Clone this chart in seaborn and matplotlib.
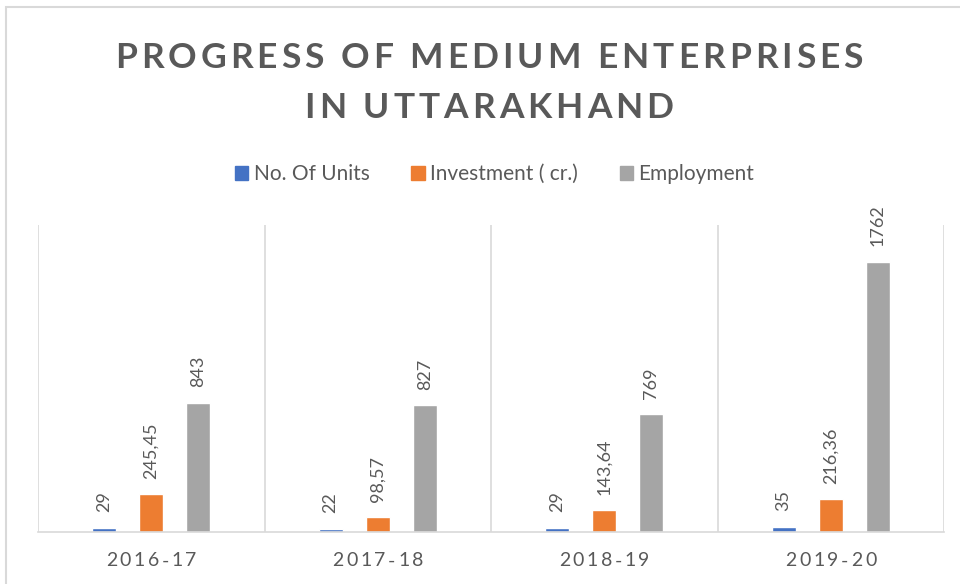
import matplotlib
matplotlib.use("Agg")
import matplotlib.pyplot as plt
import matplotlib.patches as mpatches
from matplotlib.font_manager import FontProperties, findfont, get_font
from matplotlib.transforms import offset_copy
import seaborn as sns
import pandas as pd

years = ["2016-17", "2017-18", "2018-19", "2019-20"]
units = [29, 22, 29, 35]
investment = [245.45, 98.57, 143.64, 216.36]
employment = [843, 827, 769, 1762]
series_names = ["No. Of Units", "Investment ( cr.)", "Employment"]
colors = ["#4472C4", "#ED7D31", "#A5A5A5"]
title_lines = ["PROGRESS OF MEDIUM ENTERPRISES", "IN UTTARAKHAND"]

df = pd.DataFrame({
    "year": years * 3,
    "series": [s for s in series_names for _ in years],
    "value": units + investment + employment,
})

sns.set_theme(style="white")
plt.rcParams["font.family"] = ["Lato", "DejaVu Sans"]
text_color = "#595959"
grid_color = "#D9D9D9"
DPI = 100
W, H = 960, 584

fig = plt.figure(figsize=(W / DPI, H / DPI), dpi=DPI)
ax = fig.add_axes([38 / W, 1 - 532 / H, (944 - 38) / W, (532 - 225) / H])


def advances(text, prop):
    """Horizontal advance of each character, in pixels."""
    font = get_font(findfont(prop))
    font.set_size(prop.get_size_in_points(), DPI)
    return [font.load_char(ord(ch)).linearHoriAdvance / 65536 for ch in text]


def tracked_text(text, x, y, base_transform, size, weight="normal",
                 spacing=None, total_width=None, **kw):
    """Draw text centred at (x, y) with extra space between letters."""
    prop = FontProperties(family="Lato", size=size, weight=weight)
    adv = advances(text, prop)
    natural = sum(adv)
    if total_width is not None:
        spacing = (total_width - natural) / (len(text) - 1)
    width = natural + spacing * (len(text) - 1)
    pen = -width / 2
    for ch, a in zip(text, adv):
        if ch != " ":
            tr = offset_copy(base_transform, fig=fig, x=pen + a / 2, y=0,
                             units="dots")
            fig.text(x, y, ch, transform=tr, ha="center", va="baseline",
                     fontproperties=prop, color=text_color, **kw)
        pen += a + spacing
    return spacing


sns.barplot(data=df, x="year", y="value", hue="series", order=years,
            hue_order=series_names, palette=colors, width=0.624, gap=0.49,
            saturation=1, ax=ax, legend=False)

ax.set_ylim(0, 2000)
ax.set_xlim(-0.5, len(years) - 0.5)
ax.set_yticks([])
ax.set_xlabel("")
ax.set_ylabel("")
for s in ["top", "left", "right"]:
    ax.spines[s].set_visible(False)
ax.spines["bottom"].set_color(grid_color)
ax.spines["bottom"].set_linewidth(1.2)

# vertical separators between categories
for b in [i - 0.5 for i in range(len(years) + 1)]:
    ax.axvline(b, color=grid_color, lw=1.2, zorder=0)

# category labels with letter spacing
ax.set_xticks(range(len(years)))
ax.set_xticklabels([])
ax.tick_params(axis="x", length=0)
xaxis_tr = offset_copy(ax.get_xaxis_transform(), fig=fig, x=0, y=-34.5,
                       units="dots")
for i, yr in enumerate(years):
    tracked_text(yr, i, 0, xaxis_tr, size=14, total_width=91)


def fmt(v):
    if float(v).is_integer():
        return str(int(v))
    return f"{v:.2f}".replace(".", ",")


for cont in ax.containers:
    for bar in cont:
        h = bar.get_height()
        ax.annotate(fmt(h), (bar.get_x() + bar.get_width() / 2, h),
                    xytext=(0, 11), textcoords="offset points",
                    rotation=90, ha="center", va="bottom",
                    fontsize=13, color=text_color)

# two-line title
sp = tracked_text(title_lines[0], 489 / W, 1 - 68 / H, fig.transFigure,
                  size=25.5, weight="bold", total_width=748)
tracked_text(title_lines[1], 489 / W, 1 - 118 / H, fig.transFigure,
             size=25.5, weight="bold", spacing=sp)

handles = [mpatches.Patch(facecolor=c, edgecolor=c, label=n)
           for c, n in zip(colors, series_names)]
fig.legend(handles=handles, loc="center", bbox_to_anchor=(494.5 / W, 1 - 174 / H),
           ncol=3, frameon=False, fontsize=15, labelcolor=text_color,
           handlelength=0.66, handleheight=0.66, handletextpad=0.25,
           columnspacing=2.0)

# chart frame
fig.patches.append(mpatches.Rectangle((5.5 / W, -0.05), 2, 1 - 7 / H + 0.05,
                                      transform=fig.transFigure, fill=False,
                                      edgecolor=grid_color, lw=1.5))

fig.savefig("out.png", dpi=DPI)
